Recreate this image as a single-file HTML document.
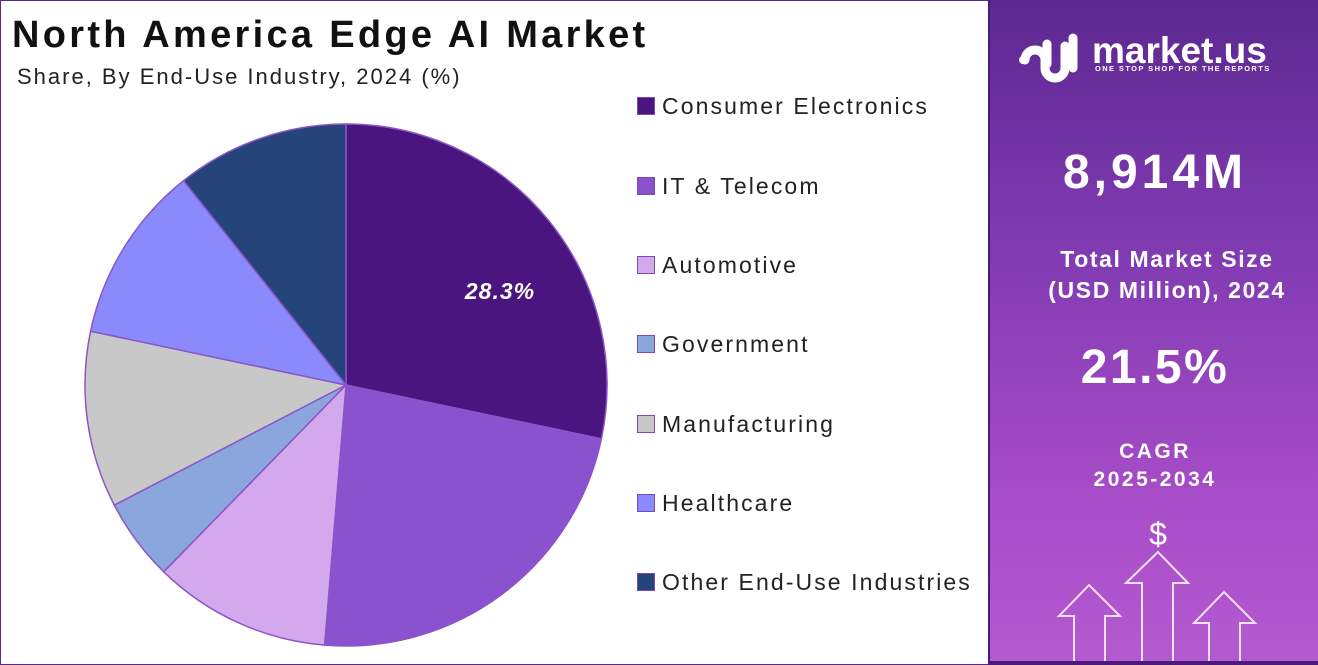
<!DOCTYPE html>
<html><head><meta charset="utf-8"><style>
body{margin:0;width:1318px;height:665px;overflow:hidden;background:#fff;font-family:"Liberation Sans",sans-serif;}
.wrap{position:absolute;left:0;top:0;width:1316px;height:663px;border:1px solid #5a2a8a;}
.t1{position:absolute;left:12px;top:14px;font-size:38px;font-weight:bold;color:#111;letter-spacing:3.3px}
.t2{position:absolute;left:17px;top:64px;font-size:22px;color:#222;letter-spacing:2px}
.leg{position:absolute;left:637px;font-size:23px;color:#222;letter-spacing:2.1px}
.leg i{display:inline-block;width:16px;height:16px;border:1px solid #7a4ab0;margin-right:7px;vertical-align:-1px}
.panel{position:absolute;left:988px;top:0;width:330px;height:665px;background:linear-gradient(#5c2890,#7e3ab0 35%,#a84cc8 75%,#b55ad0);border-left:2px solid #4a1a7a}
.w{position:absolute;width:330px;text-align:center;color:#fff;font-weight:bold}
</style></head><body>
<div class="wrap"></div>
<div class="t1">North America Edge AI Market</div>
<div class="t2">Share, By End-Use Industry, 2024 (%)</div>
<svg style="position:absolute;left:0;top:0" width="988" height="665">
<g stroke="#8a55c8" stroke-width="1.5">
<path d="M346,385 L346,124 A261,261 0 0 1 601.4,438.8Z" fill="#4b1580"/>
<path d="M346,385 L601.4,438.8 A261,261 0 0 1 324.6,645.1Z" fill="#8b52d0"/>
<path d="M346,385 L324.6,645.1 A261,261 0 0 1 163.7,571.8Z" fill="#d4a8ec"/>
<path d="M346,385 L163.7,571.8 A261,261 0 0 1 114.3,505.1Z" fill="#8ba6dc"/>
<path d="M346,385 L114.3,505.1 A261,261 0 0 1 90.6,331.2Z" fill="#c8c8c8"/>
<path d="M346,385 L90.6,331.2 A261,261 0 0 1 183.5,180.7Z" fill="#8b8afc"/>
<path d="M346,385 L183.5,180.7 A261,261 0 0 1 346,124Z" fill="#24447a"/>
</g>
<text x="500" y="299" fill="#fff" font-size="23" font-weight="bold" font-style="italic" text-anchor="middle" letter-spacing="1" font-family="Liberation Sans">28.3%</text>
</svg>
<div class="leg" style="top:93px"><i style="background:#4b1580"></i>Consumer Electronics</div>
<div class="leg" style="top:173px"><i style="background:#8b52d0"></i>IT &amp; Telecom</div>
<div class="leg" style="top:252px"><i style="background:#d4a8ec"></i>Automotive</div>
<div class="leg" style="top:331px"><i style="background:#8ba6dc"></i>Government</div>
<div class="leg" style="top:411px"><i style="background:#c8c8c8"></i>Manufacturing</div>
<div class="leg" style="top:490px"><i style="background:#8b8afc"></i>Healthcare</div>
<div class="leg" style="top:569px"><i style="background:#24447a"></i>Other End-Use Industries</div>
<div class="panel">
<svg style="position:absolute;left:0;top:0" width="330" height="665">
<g fill="none" stroke="#fff" stroke-width="9" stroke-linecap="round">
<path d="M35,60 a10,10 0 0 1 20,0 v8 a10,10 0 0 0 20,0 v-22"/>
<path d="M57,44 v20"/><path d="M83,38 v30"/>
</g>
<circle cx="33" cy="60" r="4" fill="#fff"/>
<text x="102" y="63" fill="#fff" font-size="37" font-weight="bold" font-family="Liberation Sans">market.us</text>
<text x="105" y="71" fill="#fff" font-size="7.5" font-weight="bold" letter-spacing="1.4" font-family="Liberation Sans">ONE STOP SHOP FOR THE REPORTS</text>
<g fill="none" stroke="#f0e0f8" stroke-width="2">
<path d="M84,665 V616 H69 L99,585 L130,616 H115 V665"/>
<path d="M152,665 V583 H136 L168,552 L198,583 H183 V665"/>
<path d="M219,665 V623 H204 L234,592 L265,623 H250 V665"/>
</g>
<rect x="0" y="661" width="330" height="4" fill="#4a1a7a"/>
<text x="168" y="545" fill="#fff" font-size="32" text-anchor="middle" font-family="Liberation Sans">$</text>
</svg>
<div class="w" style="top:145px;font-size:48px;letter-spacing:4px">8,914M</div>
<div class="w" style="top:244px;left:12px;font-size:23px;line-height:31px;letter-spacing:1.6px">Total Market Size<br>(USD Million), 2024</div>
<div class="w" style="top:340px;font-size:48px;letter-spacing:2.5px">21.5%</div>
<div class="w" style="top:438px;font-size:21px;line-height:28px;letter-spacing:2.5px">CAGR<br>2025-2034</div>
</div>
</body></html>
